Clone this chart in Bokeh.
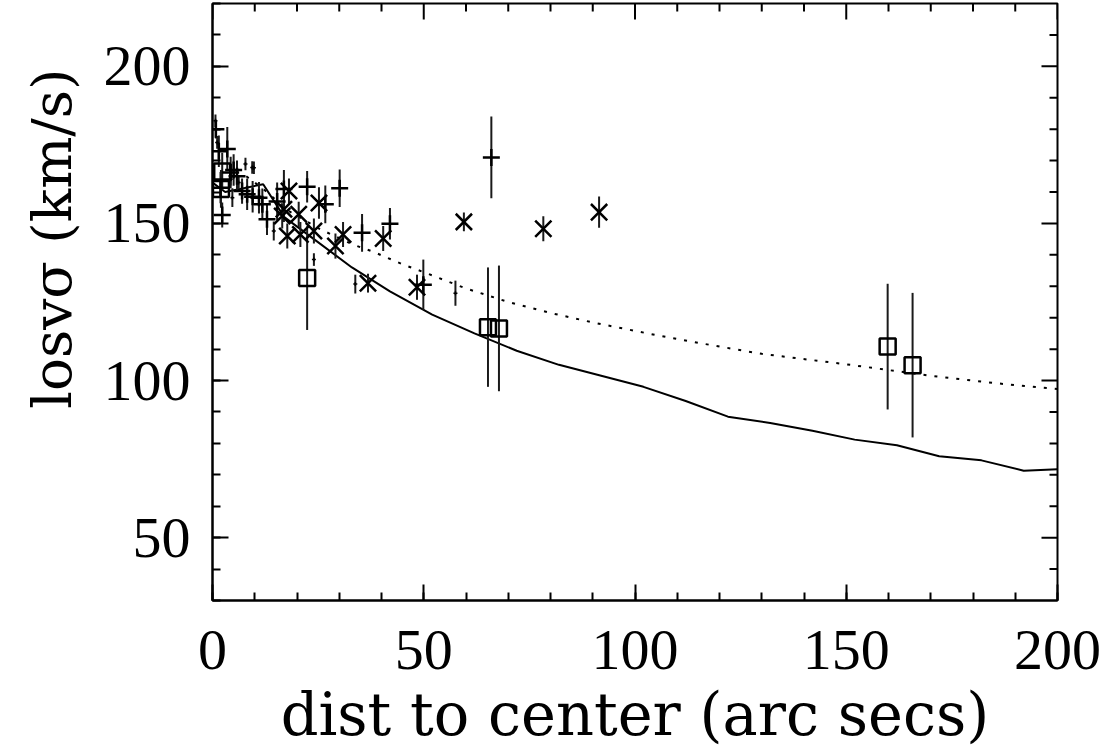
import math

from bokeh.plotting import figure
from bokeh.models import ColumnDataSource, Range1d, LinearAxis, SingleIntervalTicker, Title
from bokeh.embed import file_html
from bokeh.resources import INLINE

# Long-slit / IFU points (plus markers)
plus_x = [0.8, 1.5, 1.9, 2.3, 3.5, 4.3, 5.0, 5.8, 7.0, 8.2, 9.5, 11.0, 11.8, 12.9,
          15.3, 16.9, 22.4, 26.7, 30.1, 35.4, 42.0, 49.9, 66.0]
plus_y = [180.0, 173.0, 161.4, 152.7, 173.7, 166.2, 167.0, 165.0, 160.3, 159.3, 158.5,
          158.2, 156.1, 151.3, 157.0, 161.0, 161.7, 156.1, 161.2, 147.0, 149.9, 130.5, 171.0]
plus_err = [3, 5, 5, 4, 7, 5, 5, 5, 4, 5, 5, 5, 5, 5, 6, 6, 5, 6, 6, 6, 5, 8, 13]

# Second kinematic sample (x markers)
cross_x = [16.5, 16.9, 18.1, 17.7, 20.4, 20.8, 24.0, 25.2, 29.1, 30.9, 36.8, 40.4,
           48.4, 59.5, 78.3, 91.5]
cross_y = [152.4, 154.5, 160.3, 146.0, 152.9, 146.5, 147.6, 156.5, 142.8, 146.5, 131.0,
           145.2, 129.7, 150.5, 148.3, 153.6]
cross_err = [4, 4, 4, 4, 4, 4, 4, 5, 4, 4, 3, 4, 4, 3, 4, 5]

# Binned outer measurements (open squares)
sq_x = [2.3, 2.0, 22.4, 65.2, 67.8, 159.8, 165.7]
sq_y = [166.5, 161.0, 132.6, 117.0, 116.6, 110.8, 104.9]
sq_err = [6, 6, 16.5, 19, 20, 20, 23]

# Individual small-aperture points
dot_x = [0.7, 1.1, 4.3, 4.7, 6.2, 7.8, 9.4, 9.8, 14.5, 24.0, 33.8, 57.5]
dot_y = [182.7, 175.8, 164.1, 158.2, 163.0, 168.9, 167.8, 167.7, 147.6, 138.5, 130.7, 127.8]
dot_err = [2, 2, 2, 3, 2, 2, 2, 2, 3, 2, 3, 4]

# Model curves
model_x = [0, 3, 12, 17, 24, 33, 42, 52, 62, 72, 82, 92, 102, 112, 122, 132, 142,
           152, 162, 172, 182, 192, 200]
model_y = [163, 160, 162.5, 152, 145, 136, 128.4, 121, 115, 109.5, 105, 101.5, 98,
           93.5, 88.5, 86.5, 84, 81.2, 79.4, 75.9, 74.6, 71.3, 71.8]

model2_x = [8, 12, 18, 25, 33, 38, 45, 50, 60, 70, 80, 90, 103, 115, 130, 151, 170, 185, 200]
model2_y = [165, 161, 154, 148.5, 143.4, 141, 137, 134.5, 129.3, 125, 121.5, 118.5, 115,
            112, 108.5, 105, 101.5, 99.2, 97.3]

# Axis ranges and tick positions
x_lo, x_hi = 0, 200
y_lo, y_hi = 30, 220
x_major_ticks = [0, 50, 100, 150, 200]
x_minor_ticks = [10, 20, 30, 40, 60, 70, 80, 90, 110, 120, 130, 140, 160, 170, 180, 190]
y_major_ticks = [50, 100, 150, 200]
y_minor_ticks = [40, 60, 70, 80, 90, 110, 120, 130, 140, 160, 170, 180, 190, 210]

x_label = "dist to center (arc secs)"
y_label = "losv\u03c3 (km/s)"

LABEL_FONT = "DejaVu Serif"
TICK_FONT = "Liberation Serif"
MAJOR_LEN = 16
MINOR_LEN = 8

p = figure(width=1113, height=754, output_backend="svg", toolbar_location=None,
           x_range=Range1d(x_lo, x_hi), y_range=Range1d(y_lo, y_hi),
           x_axis_type=None, y_axis_type=None,
           min_border_left=212, min_border_right=56, min_border_top=3, min_border_bottom=154)
p.grid.visible = False
p.outline_line_color = "black"
p.outline_line_width = 2
p.background_fill_color = "white"
p.border_fill_color = "white"


def make_axis():
    ax = LinearAxis(ticker=SingleIntervalTicker(interval=50, num_minor_ticks=5))
    ax.axis_line_color = "black"
    ax.axis_line_width = 2
    ax.major_tick_in = MAJOR_LEN
    ax.major_tick_out = 0
    ax.minor_tick_in = MINOR_LEN
    ax.minor_tick_out = 0
    ax.major_tick_line_width = 2
    ax.minor_tick_line_width = 2
    ax.major_tick_line_color = "black"
    ax.minor_tick_line_color = "black"
    ax.major_label_text_font = TICK_FONT
    ax.major_label_text_font_size = "58px"
    ax.major_label_text_color = "black"
    return ax


bottom = make_axis()
bottom.major_label_standoff = 30
bottom.axis_label = x_label
bottom.axis_label_text_font = LABEL_FONT
bottom.axis_label_text_font_size = "59px"
bottom.axis_label_text_font_style = "normal"
bottom.axis_label_text_color = "black"
bottom.axis_label_standoff = 8
left = make_axis()
left.major_label_standoff = 22
p.add_layout(bottom, "below")
p.add_layout(left, "left")

# vertical axis title, anchored near the top of the frame
p.add_layout(Title(text=y_label, align="right", offset=65, standoff=30,
                   vertical_align="top",
                   text_font=LABEL_FONT, text_font_size="55px",
                   text_font_style="normal", text_color="black"), "left")

# mirrored ticks along the top and right edges of the frame
p.ray(x=x_major_ticks, y=[y_hi] * len(x_major_ticks), length=MAJOR_LEN,
      length_units="screen", angle=-math.pi / 2, line_color="black", line_width=2)
p.ray(x=x_minor_ticks, y=[y_hi] * len(x_minor_ticks), length=MINOR_LEN,
      length_units="screen", angle=-math.pi / 2, line_color="black", line_width=2)
p.ray(x=[x_hi] * len(y_major_ticks), y=y_major_ticks, length=MAJOR_LEN,
      length_units="screen", angle=math.pi, line_color="black", line_width=2)
p.ray(x=[x_hi] * len(y_minor_ticks), y=y_minor_ticks, length=MINOR_LEN,
      length_units="screen", angle=math.pi, line_color="black", line_width=2)


def err_source(xs, ys, es):
    return ColumnDataSource(dict(
        x=xs, y=ys,
        lo=[y - e for y, e in zip(ys, es)],
        hi=[y + e for y, e in zip(ys, es)],
    ))


# model curves
p.line(model_x, model_y, line_color="black", line_width=2)
p.line(model2_x, model2_y, line_color="black", line_width=2, line_dash="3 8")

s_plus = err_source(plus_x, plus_y, plus_err)
s_cross = err_source(cross_x, cross_y, cross_err)
s_sq = err_source(sq_x, sq_y, sq_err)
s_dot = err_source(dot_x, dot_y, dot_err)

for src in (s_plus, s_cross, s_sq, s_dot):
    p.segment(x0="x", y0="lo", x1="x", y1="hi", source=src,
              line_color="#1a1a1a", line_width=2)

p.scatter("x", "y", source=s_plus, marker="cross", size=17,
          line_color="black", line_width=2.5)
p.scatter("x", "y", source=s_cross, marker="x", size=23,
          line_color="black", line_width=2.5)
p.scatter("x", "y", source=s_sq, marker="square", size=16,
          line_color="black", line_width=2.5, fill_color=None)
p.scatter("x", "y", source=s_dot, marker="cross", size=4,
          line_color="black", line_width=1.5)

open("out.html", "w").write(file_html(p, INLINE))
